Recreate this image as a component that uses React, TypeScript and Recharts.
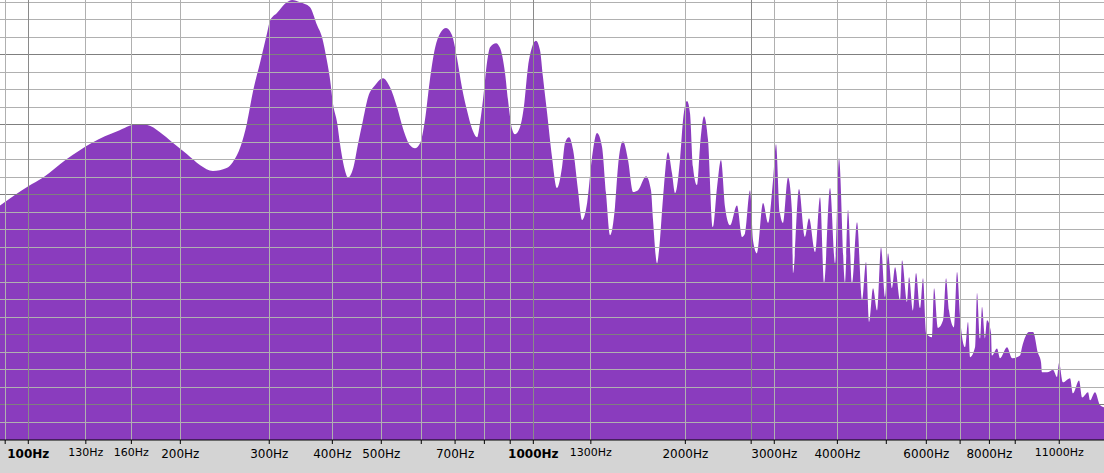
import { AreaChart, Area, XAxis, YAxis, ReferenceLine } from "recharts";

// spectrum: frequency (Hz) and level (dB)
const freqs = [
  87.9, 100, 107, 119, 134, 150, 164, 172, 182, 193, 206, 219, 232, 247, 254, 263, 271, 279, 288, 297,
  301, 311, 325, 333, 345, 361, 373, 382, 390, 396, 401, 409, 414, 422, 430, 440, 450, 460, 471, 486,
  504, 520, 537, 552, 570, 583, 597, 610, 624, 639, 654, 672, 690, 706, 722, 739, 756, 774, 784, 795,
  810, 821, 844, 859, 879, 891, 907, 920, 941, 958, 976, 994, 1012, 1031, 1045, 1065, 1089, 1114, 1140, 1156,
  1177, 1199, 1226, 1249, 1278, 1307, 1337, 1368, 1393, 1419, 1451, 1471, 1505, 1540, 1576, 1612, 1672, 1710, 1726, 1758,
  1774, 1807, 1848, 1882, 1908, 1952, 1979, 2015, 2043, 2071, 2109, 2138, 2178, 2218, 2269, 2311, 2353, 2397, 2452, 2531,
  2590, 2625, 2686, 2723, 2773, 2850, 2916, 2983, 3024, 3079, 3122, 3194, 3253, 3267, 3358, 3451, 3515, 3613, 3696, 3764,
  3868, 3958, 4030, 4142, 4199, 4276, 4375, 4476, 4558, 4621, 4706, 4793, 4881, 4971, 5039, 5132, 5203, 5323, 5371, 5495,
  5546, 5648, 5726, 5831, 5911, 5993, 6159, 6216, 6330, 6476, 6565, 6655, 6809, 6903, 6998, 7159, 7257, 7324, 7493, 7561,
  7665, 7735, 7842, 7914, 8060, 8096, 8283, 8397, 8670, 8870, 9199, 9283, 9584, 9761, 9986, 10124, 10170, 10405, 10693, 10890,
  10990, 11192, 11555, 11714, 12039, 12205, 12543, 12658, 12950, 13248, 13490,
];

const levels = [
  -34.8, -31.5, -30.0, -26.9, -24.0, -22.1, -20.9, -21.0, -22.2, -24.0, -26.0, -27.9, -28.9, -28.4, -27.4, -24.8, -20.7, -15.0, -10.2, -5.3,
  -3.2, -1.8, 0.0, 0.4, 0.0, -0.8, -3.9, -6.1, -9.9, -13.3, -17.3, -20.7, -24.1, -28.2, -30.0, -28.4, -24.1, -20.2, -16.2, -14.2,
  -13.0, -14.5, -17.9, -21.6, -24.5, -25.0, -24.1, -20.2, -13.3, -7.8, -5.3, -4.4, -5.6, -9.5, -14.5, -18.5, -21.6, -23.1, -20.7, -16.7,
  -10.2, -7.7, -7.0, -7.8, -12.1, -16.7, -21.6, -22.6, -21.4, -17.9, -11.1, -7.7, -6.6, -8.2, -12.8, -19.0, -26.5, -31.8, -28.2, -24.0,
  -23.1, -25.3, -32.2, -37.3, -34.4, -26.5, -22.4, -24.8, -32.7, -39.9, -35.1, -28.2, -23.8, -27.0, -32.5, -32.2, -29.8, -32.2, -37.3, -44.7,
  -42.5, -33.4, -25.7, -29.3, -32.7, -27.0, -20.2, -16.9, -19.0, -28.2, -31.3, -24.8, -19.5, -23.6, -38.5, -31.7, -27.0, -35.1, -38.2, -34.8,
  -40.2, -39.6, -32.2, -40.8, -43.0, -34.4, -37.8, -30.5, -24.3, -36.1, -37.8, -30.0, -36.1, -46.4, -32.0, -40.2, -37.0, -42.8, -33.4, -48.1,
  -31.8, -44.7, -26.7, -48.1, -35.6, -48.1, -37.7, -51.0, -44.5, -54.8, -49.0, -52.8, -42.0, -50.5, -43.0, -49.0, -45.4, -51.0, -44.2, -51.4,
  -47.1, -52.8, -46.4, -52.4, -47.3, -56.7, -57.4, -49.0, -55.8, -54.5, -47.3, -52.8, -55.7, -46.2, -54.0, -59.1, -54.8, -60.8, -59.1, -49.8,
  -57.6, -52.2, -57.6, -54.5, -56.7, -60.5, -59.3, -61.0, -59.1, -61.0, -60.5, -59.1, -56.5, -56.5, -60.1, -61.7, -63.4, -63.4, -63.0, -64.2,
  -61.8, -65.1, -64.4, -67.0, -64.8, -67.7, -66.8, -68.2, -66.8, -69.0, -69.4,
];

const freqTicks = [90, 100, 130, 160, 200, 300, 400, 500, 600, 700, 800, 900, 1000, 1300, 2000, 2700, 3000, 4000, 5000, 6000, 7000, 8000, 9000, 11000];
const labelledTicks = [100, 130, 160, 200, 300, 400, 500, 700, 1000, 1300, 2000, 3000, 4000, 6000, 8000, 11000];
const boldTicks = [100, 1000];
const smallTicks = [130, 160, 1300, 11000];
const darkFreqLines = [100, 1000, 2700];

const dbLines = [0, -3, -6, -9, -12, -15, -18, -21, -24, -27, -30, -33, -36, -39, -42, -45, -48, -51, -54, -57, -60, -63, -66, -69, -72];
const darkDbLines = [-9, -21, -33, -45, -57, -69];

const data = freqs.map((f, i) => ({ freq: f, level: levels[i] }));

const W = 1104;
const H = 473;
const AXIS_H = 33;

const FreqTick = (props: any) => {
  const { x, payload } = props;
  const v = payload.value;
  if (!labelledTicks.includes(v)) return null;
  const small = smallTicks.includes(v);
  return (
    <text
      x={x}
      y={small ? 456 : 458}
      textAnchor="middle"
      fontFamily="DejaVu Sans"
      fontSize={small ? 11 : 12}
      fontWeight={boldTicks.includes(v) ? "bold" : "normal"}
      fill="#000"
    >
      {v}Hz
    </text>
  );
};

export default function App() {
  return (
    <div style={{ position: "absolute", left: 0, top: 0, width: W, height: H, background: "#d4d4d4" }}>
      <div style={{ position: "absolute", left: 0, top: 0, width: W, height: H - AXIS_H, background: "#fff" }} />
      <div style={{ position: "absolute", left: 0, top: 0 }}>
        <AreaChart width={W} height={H} data={data} margin={{ top: 0, right: 0, bottom: 0, left: 0 }}>
          <XAxis
            dataKey="freq"
            type="number"
            scale="log"
            domain={[87.9, 13490]}
            allowDataOverflow
            ticks={freqTicks}
            interval={0}
            height={AXIS_H}
            tickSize={4}
            tickLine={{ stroke: "#000" }}
            axisLine={{ stroke: "#000" }}
            tick={<FreqTick />}
          />
          <YAxis hide type="number" domain={[-75, 0.4]} allowDataOverflow />
          <Area
            type="monotone"
            dataKey="level"
            baseValue="dataMin"
            stroke="none"
            fill="#8a3cbe"
            fillOpacity={1}
            dot={false}
            activeDot={false}
            isAnimationActive={false}
          />
          {dbLines.map((v) => (
            <ReferenceLine
              key={"h" + v}
              y={v}
              stroke={darkDbLines.includes(v) ? "#7f7f7f" : "#b0b0b0"}
              strokeWidth={1}
              shapeRendering="crispEdges"
            />
          ))}
          {freqTicks.map((f) => (
            <ReferenceLine
              key={"v" + f}
              x={f}
              stroke={darkFreqLines.includes(f) ? "#8a8a8a" : "#b0b0b0"}
              strokeWidth={1}
              shapeRendering="crispEdges"
            />
          ))}
        </AreaChart>
      </div>
    </div>
  );
}
